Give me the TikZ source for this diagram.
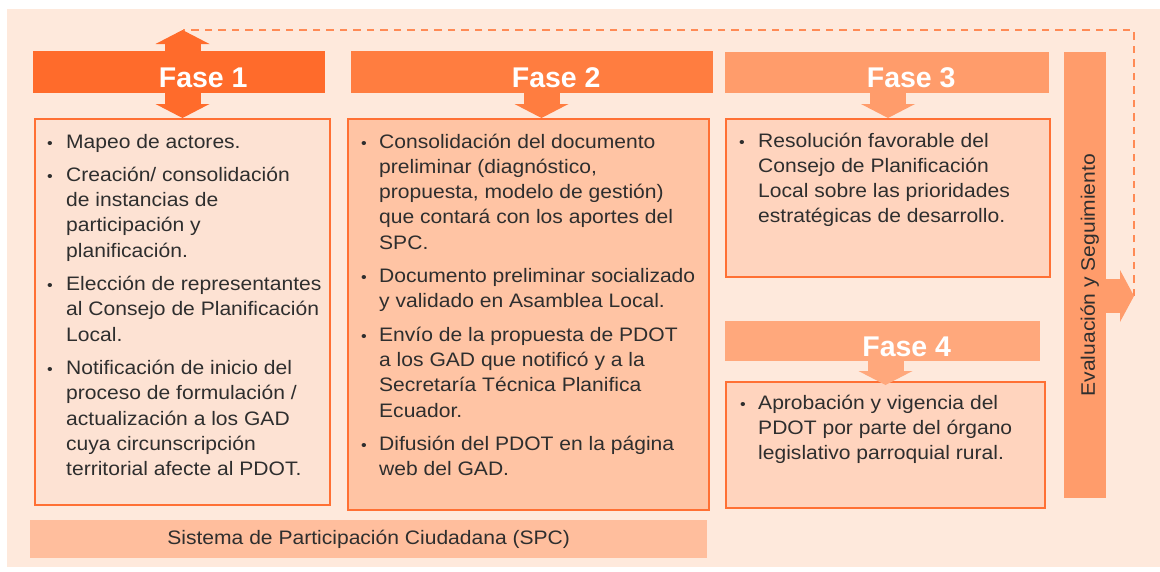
\documentclass[tikz,border=0pt]{standalone}
\usepackage{fontspec}
\setmainfont{Liberation Sans}
\newfontfamily\bodyfont{Liberation Sans}[FakeStretch=1.08]
\usetikzlibrary{arrows.meta,positioning}
\definecolor{paper}{HTML}{FEE9DC}
\definecolor{faseA}{HTML}{FF6B2B}
\definecolor{faseB}{HTML}{FF7D40}
\definecolor{faseC}{HTML}{FF9C6B}
\definecolor{faseD}{HTML}{FFA87C}
\definecolor{boxline}{HTML}{FF7034}
\definecolor{boxA}{HTML}{FDE2D3}
\definecolor{boxB}{HTML}{FFC4A4}
\definecolor{boxC}{HTML}{FFD4BE}
\definecolor{spcfill}{HTML}{FFBE9D}
\definecolor{dashcol}{HTML}{FF8A55}
\definecolor{ink}{HTML}{2E2E2E}
\newcommand{\dotmark}{{\fontsize{15}{15}\selectfont\textbullet}}

\begin{document}
\begin{tikzpicture}[x=1pt,y=-1pt,
  bar/.style={anchor=north west,inner sep=0pt,draw=none},
  phasebox/.style={anchor=north west,inner sep=0pt,draw=boxline,line width=2pt},
  title/.style={anchor=base,xshift=24pt,yshift=-15pt,text=white,font=\bfseries\fontsize{28.5}{30}\selectfont},
  itemtext/.style={anchor=base west,inner sep=0pt,text=ink,font=\bodyfont\fontsize{19.5}{25.3}\selectfont},
  bartext/.style={text=ink,font=\bodyfont\fontsize{19.5}{22}\selectfont},
  fatarrow/.style={line width=36pt,-{Triangle[width=54pt,length=14pt,line width=0pt]}},
  looppath/.style={draw=dashcol,line width=2pt,dash pattern=on 7.5pt off 6pt}]

  \useasboundingbox (0,0) rectangle (1160,571);
  \fill[white] (0,0) rectangle (1160,571);
  \fill[paper] (7,9) rectangle (1160,567);

  % bars
  \node[bar,fill=faseA,minimum width=292pt,minimum height=42pt] (bar1) at (33,51) {};
  \node[bar,fill=faseB,minimum width=362pt,minimum height=42pt] (bar2) at (351,51) {};
  \node[bar,fill=faseC,minimum width=324pt,minimum height=41pt] (bar3) at (725,52) {};
  \node[bar,fill=faseD,minimum width=315pt,minimum height=40pt] (bar4) at (725,321) {};
  \node[bar,bartext,fill=faseC,minimum width=42pt,minimum height=446pt] (evalbar) at (1064,52)
    {\hspace*{9pt}\rotatebox{90}{Evaluación y Seguimiento}};
  \node[bar,bartext,fill=spcfill,minimum width=677pt,minimum height=38pt] (spc) at (30,520)
    {Sistema de Participación Ciudadana (SPC)};

  % boxes
  \node[phasebox,fill=boxA,minimum width=295pt,minimum height=386pt] (box1) at (34,118) {};
  \node[phasebox,fill=boxB,minimum width=361pt,minimum height=391pt] (box2) at (347,118) {};
  \node[phasebox,fill=boxC,minimum width=324pt,minimum height=158pt] (box3) at (725,118) {};
  \node[phasebox,fill=boxC,minimum width=319pt,minimum height=126pt] (box4) at (725,381) {};

  % loop back to fase 1
  \coordinate (loopend) at (box1.north |- 0,30);
  \coordinate (evaltip) at (1134,296);
  \draw[looppath] (evaltip) |- (loopend);

  \coordinate (tip2) at ([xshift=13pt]box2.north);
  \coordinate (tip4) at ([yshift=-4pt]box4.north);
  \draw[fatarrow,faseA] (box1.north |- bar1.north) -- (loopend);
  \draw[fatarrow,faseA] (box1.north |- bar1.south) -- (box1.north);
  \draw[fatarrow,faseB] (tip2 |- bar2.south) -- (tip2);
  \draw[fatarrow,faseC] (box3.north |- bar3.south) -- (box3.north);
  \draw[fatarrow,faseD] (tip4 |- bar4.south) -- (tip4);
  \draw[faseC,line width=34pt,-{Triangle[width=52pt,length=14pt,line width=0pt]}]
    (evaltip -| evalbar.east) -- (evaltip);

  \node[title] (t1) at (bar1.center) {Fase 1};
  \node[title] (t2) at (bar2.center) {Fase 2};
  \node[title] (t3) at (bar3.center) {Fase 3};
  \node[title] (t4) at (bar4.center) {Fase 4};

  \node[itemtext] (list1) at ([xshift=13pt,yshift=-30pt]box1.north west) {%
    \begin{tabular}[t]{@{}p{19pt}@{}l@{}}
    \dotmark & Mapeo de actores.\\[8pt]
    \dotmark & Creación/ consolidación\\
     & de instancias de\\
     & participación y\\
     & planificación.\\[8pt]
    \dotmark & Elección de representantes\\
     & al Consejo de Planificación\\
     & Local.\\[8pt]
    \dotmark & Notificación de inicio del\\
     & proceso de formulación /\\
     & actualización a los GAD\\
     & cuya circunscripción\\
     & territorial afecte al PDOT.
    \end{tabular}};
  \node[itemtext] (list2) at ([xshift=14pt,yshift=-30pt]box2.north west) {%
    \begin{tabular}[t]{@{}p{18pt}@{}l@{}}
    \dotmark & Consolidación del documento\\
     & preliminar (diagnóstico,\\
     & propuesta, modelo de gestión)\\
     & que contará con los aportes del\\
     & SPC.\\[8pt]
    \dotmark & Documento preliminar socializado\\
     & y validado en Asamblea Local.\\[8pt]
    \dotmark & Envío de la propuesta de PDOT\\
     & a los GAD que notificó y a la\\
     & Secretaría Técnica Planifica\\
     & Ecuador.\\[8pt]
    \dotmark & Difusión del PDOT en la página\\
     & web del GAD.
    \end{tabular}};
  \node[itemtext] (list3) at ([xshift=14pt,yshift=-29pt]box3.north west) {%
    \begin{tabular}[t]{@{}p{19pt}@{}l@{}}
    \dotmark & Resolución favorable del\\
     & Consejo de Planificación\\
     & Local sobre las prioridades\\
     & estratégicas de desarrollo.
    \end{tabular}};
  \node[itemtext] (list4) at ([xshift=15pt,yshift=-28pt]box4.north west) {%
    \begin{tabular}[t]{@{}p{18pt}@{}l@{}}
    \dotmark & Aprobación y vigencia del\\
     & PDOT por parte del órgano\\
     & legislativo parroquial rural.
    \end{tabular}};

\end{tikzpicture}
\end{document}
